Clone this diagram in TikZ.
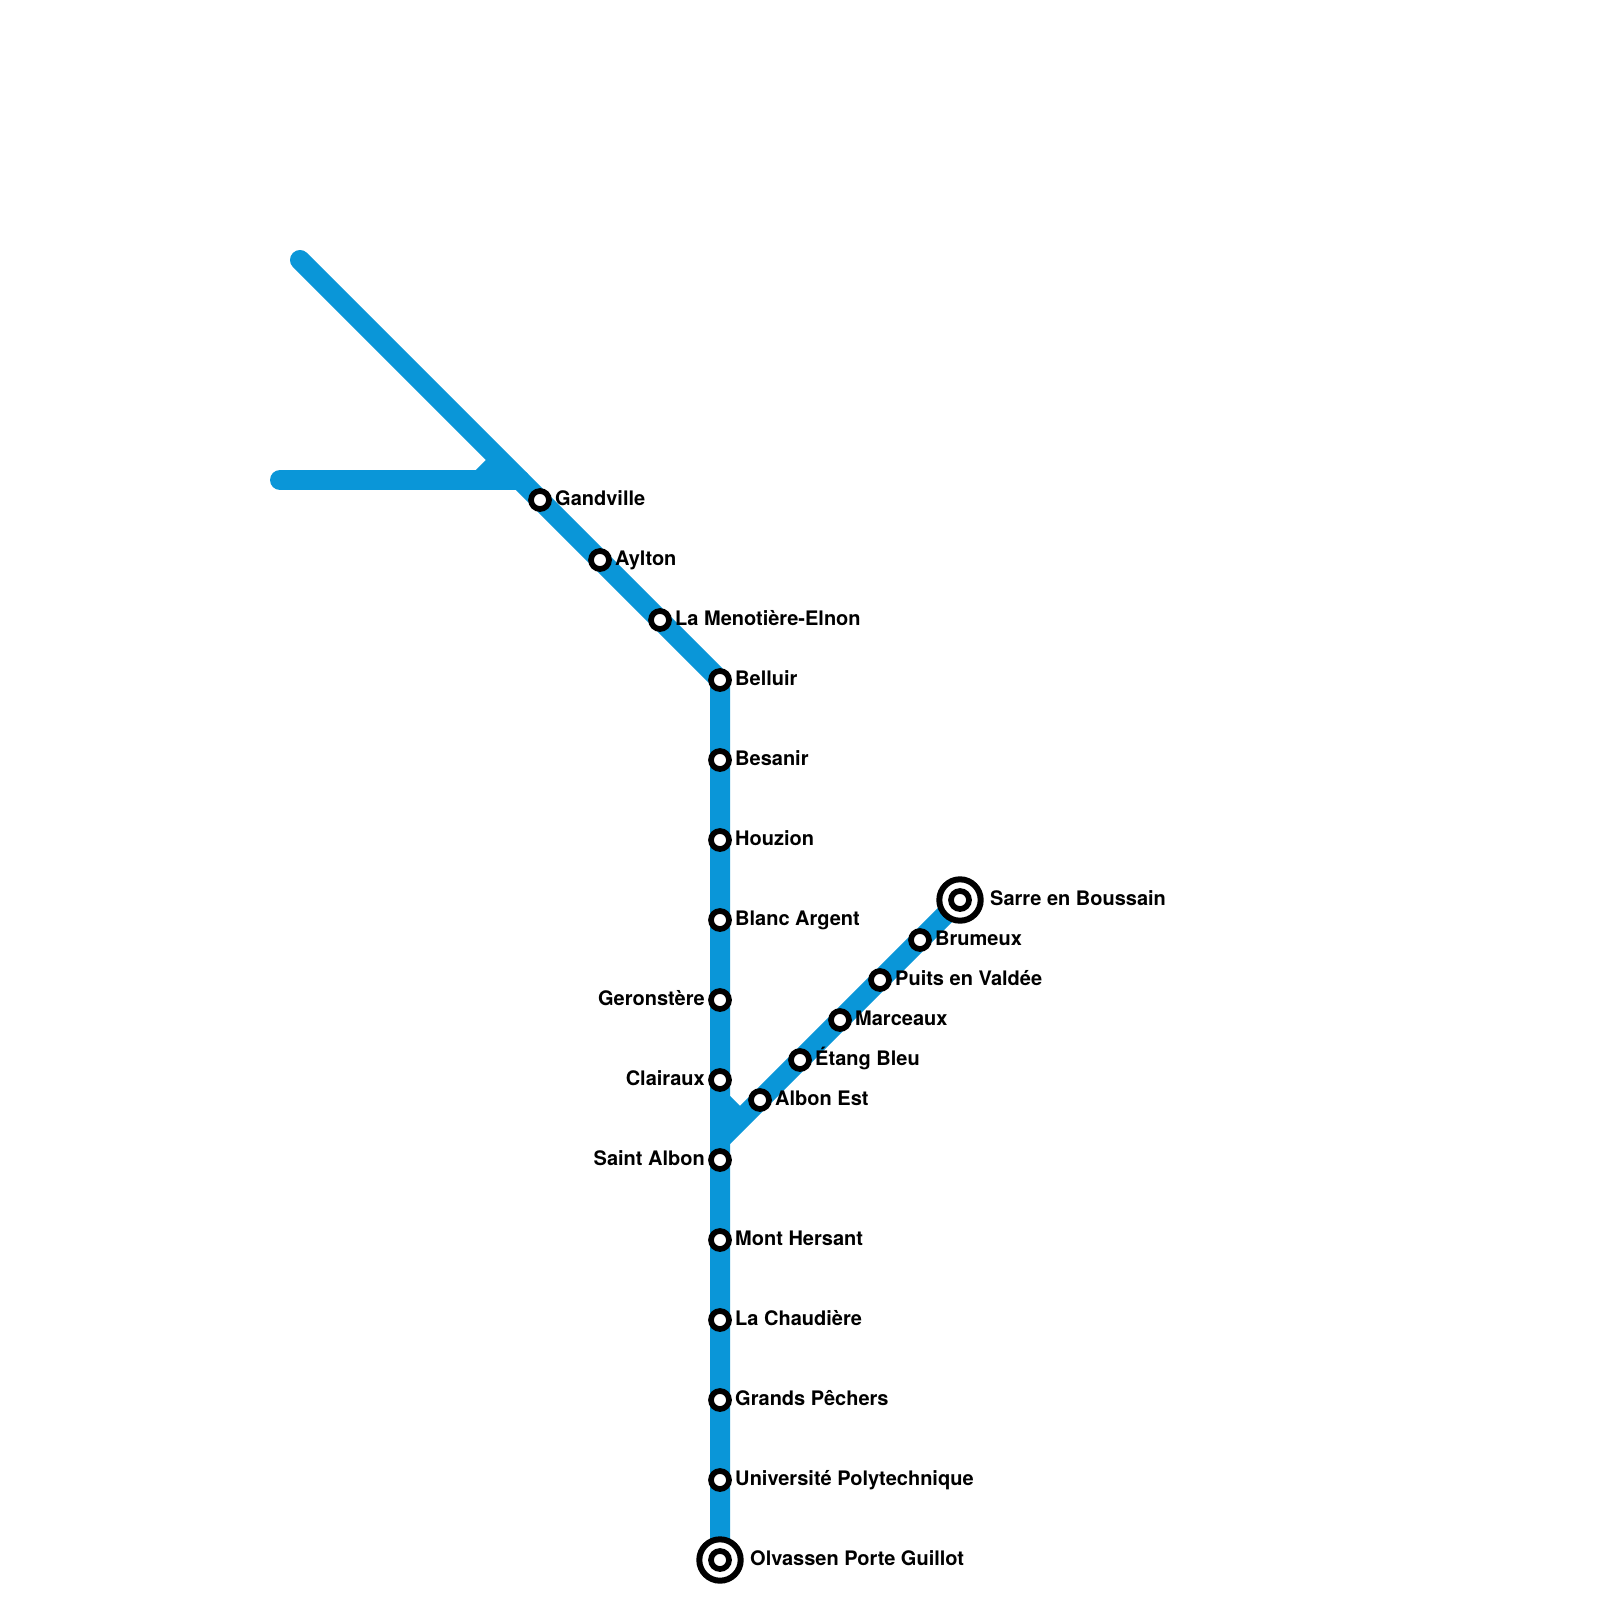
\documentclass[tikz,border=0pt]{standalone}
\usepackage{fontspec}
\setmainfont{TeX Gyre Heros}
\definecolor{linecol}{HTML}{0A96D8}
\tikzset{
  metro/.style={draw=linecol,line width=20pt},
  stn/.style={circle,draw=black,fill=white,line width=5.7pt,minimum size=18pt,inner sep=0pt,outer sep=0pt},
  termo/.style={circle,draw=black,fill=white,line width=6pt,minimum size=41.4pt,inner sep=0pt,outer sep=0pt},
  lbr/.style={anchor=base west,inner sep=0pt,font=\fontsize{20}{24}\selectfont\bfseries},
  lbl/.style={anchor=base east,inner sep=0pt,font=\fontsize{20}{24}\selectfont\bfseries}
}
\begin{document}
\begin{tikzpicture}[x=1pt,y=-1pt]
\useasboundingbox (0,0) rectangle (1600,1600);
% track points
\coordinate (start) at (300,260);
\coordinate (west) at (280,480);
\coordinate (jw) at (520,480);
\coordinate (jwa) at (480,480);
\coordinate (jwb) at (500,460);
\coordinate (pbel) at (720,680);
\coordinate (pend) at (720,1560);
\coordinate (psarre) at (960,900);
\coordinate (jsb) at (720,1140);
\coordinate (jsa) at (720,1100);
\coordinate (jsc) at (740,1120);
% lines
\draw[metro,line cap=round,line join=round] (start) -- (pbel) -- (pend);
\draw[metro,line cap=round] (west) -- (jw);
\draw[metro] (jwa) -- (jwb);
\draw[metro] (psarre) -- (jsb);
\draw[metro] (jsa) -- (jsc);
% stations
\node[stn] (gand) at (540,500) {};
\node[stn] (ayl) at (600,560) {};
\node[stn] (meno) at (660,620) {};
\node[stn] (bel) at (720,680) {};
\node[stn] (bes) at (720,760) {};
\node[stn] (hou) at (720,840) {};
\node[stn] (bla) at (720,920) {};
\node[stn] (ger) at (720,1000) {};
\node[stn] (cla) at (720,1080) {};
\node[stn] (sal) at (720,1160) {};
\node[stn] (mon) at (720,1240) {};
\node[stn] (cha) at (720,1320) {};
\node[stn] (gra) at (720,1400) {};
\node[stn] (uni) at (720,1480) {};
\node[termo] (olvo) at (720,1560) {};
\node[stn] (olv) at (720,1560) {};
\node[stn] (alb) at (760,1100) {};
\node[stn] (eta) at (800,1060) {};
\node[stn] (mar) at (840,1020) {};
\node[stn] (pui) at (880,980) {};
\node[stn] (bru) at (920,940) {};
\node[termo] (saro) at (960,900) {};
\node[stn] (sar) at (960,900) {};
% labels
\node[lbr] (lgand) at (555,505.5) {Gandville};
\node[lbr] (layl) at (615,565.5) {Aylton};
\node[lbr] (lmeno) at (675,625.5) {La Menotière-Elnon};
\node[lbr] (lbel) at (735,685.5) {Belluir};
\node[lbr] (lbes) at (735,765.5) {Besanir};
\node[lbr] (lhou) at (735,845.5) {Houzion};
\node[lbr] (lbla) at (735,925.5) {Blanc Argent};
\node[lbl] (lger) at (705,1005.5) {Geronstère};
\node[lbl] (lcla) at (705,1085.5) {Clairaux};
\node[lbl] (lsal) at (705,1165.5) {Saint Albon};
\node[lbr] (lmon) at (735,1245.5) {Mont Hersant};
\node[lbr] (lcha) at (735,1325.5) {La Chaudière};
\node[lbr] (lgra) at (735,1405.5) {Grands Pêchers};
\node[lbr] (luni) at (735,1485.5) {Université Polytechnique};
\node[lbr] (lolv) at (750,1565.5) {Olvassen Porte Guillot};
\node[lbr] (lalb) at (775,1105.5) {Albon Est};
\node[lbr] (leta) at (815,1065.5) {Étang Bleu};
\node[lbr] (lmar) at (855,1025.5) {Marceaux};
\node[lbr] (lpui) at (895,985.5) {Puits en Valdée};
\node[lbr] (lbru) at (935,945.5) {Brumeux};
\node[lbr] (lsar) at (990,905.5) {Sarre en Boussain};
\end{tikzpicture}
\end{document}
